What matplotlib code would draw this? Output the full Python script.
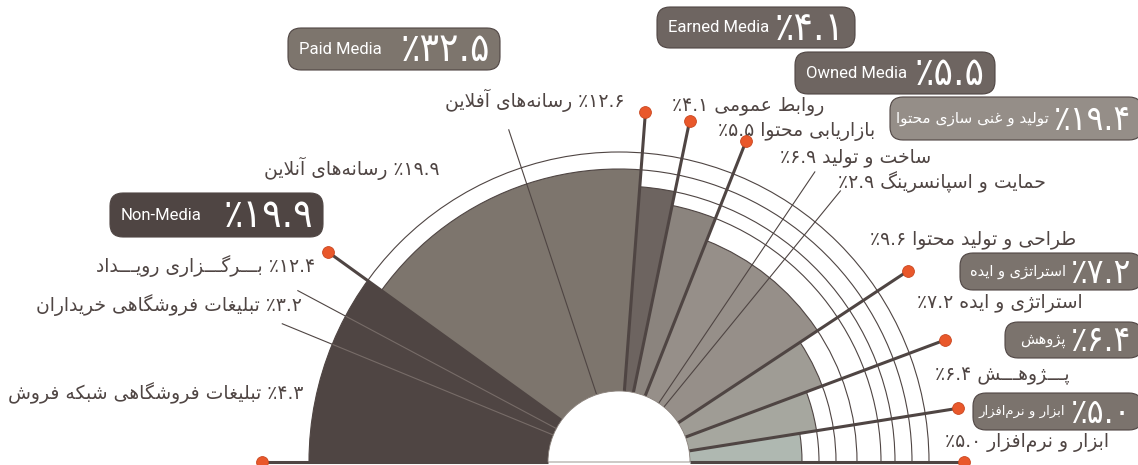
import numpy as np
import matplotlib.pyplot as plt
from matplotlib.patches import Wedge, Arc, FancyBboxPatch

# ---- data -------------------------------------------------------------
group_names = ['Non-Media', 'Paid Media', 'Earned Media', 'Owned Media',
               'تولید و غنی سازی محتوا', 'استراتژی و ایده', 'پژوهش', 'ابزار و نرم‌افزار']
group_values = [19.9, 32.5, 4.1, 5.5, 19.4, 7.2, 6.4, 5.0]

sub_names = ['بـــرگـــزاری رویـــداد', 'تبلیغات فروشگاهی خریداران',
             'تبلیغات فروشگاهی شبکه فروش', 'رسانه‌های آنلاین', 'رسانه‌های آفلاین',
             'روابط عمومی', 'بازاریابی محتوا', 'ساخت و تولید', 'حمایت و اسپانسرینگ',
             'طراحی و تولید محتوا', 'استراتژی و ایده', 'پـــژوهـــش', 'ابزار و نرم‌افزار']
sub_values = [12.4, 3.2, 4.3, 19.9, 12.6, 4.1, 5.5, 6.9, 2.9, 9.6, 7.2, 6.4, 5.0]
sub_group = [0, 0, 0, 1, 1, 2, 3, 4, 4, 4, 5, 6, 7]

# ---- style ------------------------------------------------------------
dark = '#4f4543'
orange = '#e9582b'
wedge_colors = ['#4f4543', '#7d756d', '#6d6460', '#8b847e', '#968f89',
                '#9f9c95', '#a6a79f', '#afb8b1']
wedge_radii = [310, 293, 276, 262, 238, 217, 200, 183]
dot_radii = [357, 359, 351, 348, 345, 346, 348, 343, 345]
cx, cy, r_hole = 619, 462, 71

# boxes: x0, y0, x1, y1, color
boxes = [(110, 193, 323, 237, '#4f4543'), (288, 28, 500, 70, '#7d756d'),
         (657, 7, 855, 48, '#6e6561'), (795, 52, 995, 94, '#6e6561'),
         (890, 97, 1142, 140, '#958e88'), (960, 253, 1142, 290, '#7b736d'),
         (1005, 322, 1142, 358, '#7b736d'), (973, 393, 1142, 430, '#7b736d')]
box_text_size = [12, 12, 12, 12, 11, 10.5, 10.5, 9.5]

# label anchors: x, y, number on the right side of the text?
label_pos = [(315, 266, True), (302, 305, True), (303, 393, True), (440, 168, True),
             (625, 100, True), (672, 106, False), (718, 131, False), (780, 157, False),
             (838, 182, False), (870, 239, False), (917, 302, False), (935, 375, False),
             (945, 442, False)]

# ---- minimal persian shaping (matplotlib has no RTL support) ------------
DUAL = {'ب': 0xFE8F, 'ت': 0xFE95, 'ث': 0xFE99, 'ج': 0xFE9D, 'ح': 0xFEA1, 'خ': 0xFEA5,
        'س': 0xFEB1, 'ش': 0xFEB5, 'ص': 0xFEB9, 'ض': 0xFEBD, 'ط': 0xFEC1, 'ظ': 0xFEC5,
        'ع': 0xFEC9, 'غ': 0xFECD, 'ف': 0xFED1, 'ق': 0xFED5, 'ل': 0xFEDD, 'م': 0xFEE1,
        'ن': 0xFEE5, 'ه': 0xFEE9, 'پ': 0xFB56, 'چ': 0xFB7A, 'ک': 0xFB8E, 'گ': 0xFB92,
        'ی': 0xFBFC}
RIGHT = {'ا': 0xFE8D, 'آ': 0xFE81, 'د': 0xFEA9, 'ذ': 0xFEAB, 'ر': 0xFEAD, 'ز': 0xFEAF,
         'ژ': 0xFB8A, 'و': 0xFEED}
TATWEEL = 'ـ'


def shape(s):
    out = []
    i = 0
    while i < len(s):
        ch = s[i]
        prev_j = i > 0 and (s[i-1] in DUAL or s[i-1] == TATWEEL)
        nxt = s[i+1] if i + 1 < len(s) else ''
        if ch == 'ل' and nxt in ('ا', 'آ'):
            base = 0xFEFB if nxt == 'ا' else 0xFEF5
            out.append(chr(base + (1 if prev_j else 0)))
            i += 2
            continue
        if ch in DUAL:
            next_j = nxt in DUAL or nxt in RIGHT or nxt == TATWEEL
            out.append(chr(DUAL[ch] + [[0, 2], [1, 3]][prev_j][next_j]))
        elif ch in RIGHT:
            out.append(chr(RIGHT[ch] + (1 if prev_j else 0)))
        elif ch == '\u200c':
            pass
        else:
            out.append(ch)
        i += 1
    return ''.join(out)[::-1]


def fa_num(v):
    return '٪' + f'{v:.1f}'.translate(str.maketrans('0123456789', '۰۱۲۳۴۵۶۷۸۹'))


def pt(a, r):
    t = np.radians(a)
    return cx - r * np.cos(t), cy - r * np.sin(t)


# ---- figure -----------------------------------------------------------
fig = plt.figure(figsize=(11.38, 4.65), dpi=100)
ax = fig.add_axes([0, 0, 1, 1])
ax.set_xlim(0, 1138)
ax.set_ylim(465, 0)
ax.axis('off')

cum = np.concatenate([[0], np.cumsum(group_values)])
ang = cum / cum[-1] * 180

# wedges and rings
for i in range(len(group_values)):
    ax.add_patch(Wedge((cx, cy), wedge_radii[i], 180 + ang[i], 180 + ang[i+1],
                       facecolor=wedge_colors[i], edgecolor='none', zorder=1))
    ax.add_patch(Arc((cx, cy), 2 * wedge_radii[i], 2 * wedge_radii[i],
                     theta1=180 + ang[i], theta2=360, color=dark, lw=0.8, zorder=2))

# sub boundaries (thin)
sub_cum = np.cumsum(sub_values)[:-1]
for k, c in enumerate(sub_cum):
    if sub_group[k] == sub_group[k+1]:
        a = c / cum[-1] * 180
        g = sub_group[k]
        r_out = 364 if g == 0 else 350
        x0, y0 = pt(a, r_hole)
        x1, y1 = pt(a, wedge_radii[g])
        x2, y2 = pt(a, r_out)
        ax.plot([x0, x1], [y0, y1], color='#776c68' if g == 0 else dark, lw=0.8, zorder=3)
        ax.plot([x1, x2], [y1, y2], color=dark, lw=0.8, zorder=3)

# group boundaries (thick, with dots)
for j, a in enumerate(ang):
    x0, y0 = pt(a, r_hole)
    x1, y1 = pt(a, dot_radii[j])
    ax.plot([x0, x1], [y0, y1], color=dark, lw=2.2, zorder=4, solid_capstyle='butt')
    ax.plot(x1, y1, 'o', ms=8.5, color=orange, mec='#c9461f', mew=0.6,
            zorder=9, clip_on=False)

# hole
ax.add_patch(Wedge((cx, cy), r_hole, 180, 360, facecolor='white',
                   edgecolor='#8a817b', lw=0.6, zorder=5))

# labels
fa_font = 'DejaVu Sans'
for k, name in enumerate(sub_names):
    x, y, num_right = label_pos[k]
    if num_right:
        s = shape(name) + ' ' + fa_num(sub_values[k])
        ha = 'right'
    else:
        s = fa_num(sub_values[k]) + ' ' + shape(name)
        ha = 'left'
    ax.text(x, y, s, ha=ha, va='center', fontsize=13.5, color=dark, family=fa_font)

# group boxes
renderer = fig.canvas.get_renderer()
for i, (x0, y0, x1, y1, col) in enumerate(boxes):
    ax.add_patch(FancyBboxPatch((x0, y0), x1 - x0, y1 - y0,
                                boxstyle='round,pad=0,rounding_size=13',
                                facecolor=col, edgecolor=dark, lw=0.8, zorder=7,
                                clip_on=False))
    ym = (y0 + y1) / 2
    num = fa_num(group_values[i])
    if i < 4:
        ax.text(x0 + 11, ym, group_names[i], ha='left', va='center',
                fontsize=box_text_size[i], color='white', family='Roboto', zorder=8)
        ax.text(x1 - 10, ym + 1, num, ha='right', va='center', fontsize=29,
                fontstretch='condensed', color='white', family=fa_font, zorder=8)
    else:
        t = ax.text(1131, ym + 1, num, ha='right', va='center', fontsize=25,
                    fontstretch='condensed', color='white', family=fa_font, zorder=8)
        bb = t.get_window_extent(renderer)
        ax.text(bb.x0 - 5, ym, shape(group_names[i]), ha='right', va='center',
                fontsize=box_text_size[i], color='white', family=fa_font, zorder=8)

fig.savefig('out.png', dpi=100, facecolor='white')
